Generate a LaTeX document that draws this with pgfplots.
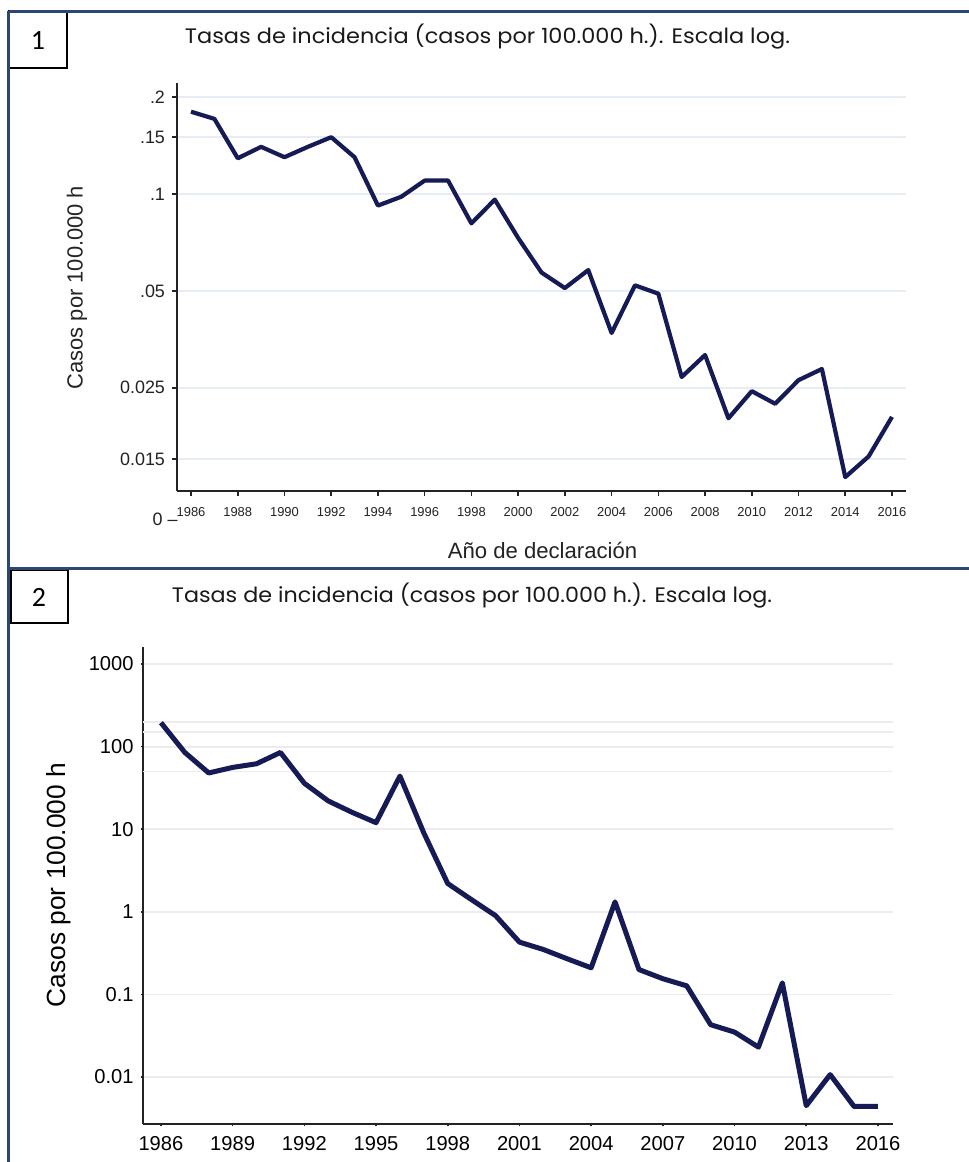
\documentclass[border=0pt]{standalone}
\usepackage{pgfplots}
\usepackage{pgfplotstable}
\pgfplotsset{compat=1.18}
\usepackage{fontspec}
\setmainfont{Liberation Sans}
\newfontfamily\titlefont{Poppins}
\newfontfamily\boxfont{Carlito}

\definecolor{serie}{RGB}{22,27,86}
\definecolor{marco}{RGB}{43,72,114}
\definecolor{rejillaA}{RGB}{230,237,244}
\definecolor{rejillaB}{RGB}{236,236,236}
\definecolor{eje}{RGB}{35,35,35}

% Tasas de incidencia, panel 1
\pgfplotstableread{
anio tasa
1986 0.180
1987 0.171
1988 0.129
1989 0.140
1990 0.130
1991 0.140
1992 0.150
1993 0.130
1994 0.092
1995 0.098
1996 0.110
1997 0.110
1998 0.081
1999 0.096
2000 0.073
2001 0.057
2002 0.051
2003 0.058
2004 0.037
2005 0.052
2006 0.049
2007 0.027
2008 0.0316
2009 0.0201
2010 0.0244
2011 0.0223
2012 0.0264
2013 0.0286
2014 0.0132
2015 0.0153
2016 0.0203
}\tablaA

% Tasas de incidencia, panel 2
\pgfplotstableread{
anio tasa
1986 195
1987 85
1988 48
1989 56
1990 62
1991 85
1992 36
1993 22
1994 16
1995 12
1996 44
1997 9
1998 2.2
1999 1.4
2000 0.9
2001 0.43
2002 0.35
2003 0.27
2004 0.21
2005 1.32
2006 0.2
2007 0.155
2008 0.127
2009 0.043
2010 0.035
2011 0.023
2012 0.138
2013 0.0045
2014 0.0107
2015 0.0044
2016 0.0044
}\tablaB

\newcommand\titulo[1]{\resizebox{#1}{\height}{\titlefont\fontsize{10.5}{12}\selectfont Tasas de incidencia (casos por 100.000 h.). Escala log.}}

\begin{document}
\begin{tikzpicture}
\useasboundingbox (0,0) rectangle (484.5bp,581bp);
\fill[white] (0,0) rectangle (484.5bp,581bp);

% ---------- panel 1 ----------
\begin{axis}[
  at={(88.5bp,335.5bp)}, anchor=south west,
  scale only axis, width=364.5bp, height=204bp,
  ymode=log, xmin=1985.4, xmax=2016.6, ymin=0.01195, ymax=0.221,
  axis lines=left, axis line style={-, eje, line width=1bp},
  xtick={1986,1988,1990,1992,1994,1996,1998,2000,2002,2004,2006,2008,2010,2012,2014,2016},
  xticklabels={1986,1988,1990,1992,1994,1996,1998,2000,2002,2004,2006,2008,2010,2012,2014,2016},
  ytick={0.015,0.025,0.05,0.1,0.15,0.2},
  yticklabels={0.015,0.025,.05,.1,.15,.2},
  yminorticks=false, xminorticks=false,
  tick align=outside, major tick length=2.5bp,
  tick style={eje, line width=0.8bp},
  ymajorgrids, grid style={rejillaA, line width=0.8bp},
  xticklabel style={font=\fontsize{6.5}{7}\selectfont, text=eje, yshift=-2bp},
  yticklabel style={font=\fontsize{9}{10}\selectfont, text=eje},
]
\addplot[serie, line width=2.1bp, line join=round] table[x=anio, y=tasa] {\tablaA};
\end{axis}

% ---------- panel 2 ----------
\begin{axis}[
  at={(71.5bp,19bp)}, anchor=south west,
  scale only axis, width=375bp, height=238.5bp,
  ymode=log, xmin=1985.25, xmax=2016.63, ymin=0.0027, ymax=1607,
  axis lines=left, axis line style={-, eje, line width=1bp},
  xtick={1986,1989,1992,1995,1998,2001,2004,2007,2010,2013,2016},
  xticklabels={1986,1989,1992,1995,1998,2001,2004,2007,2010,2013,2016},
  ytick={0.01,0.1,1,10,100,1000},
  yticklabels={0.01,0.1,1,10,100,1000},
  extra y ticks={50,150,200}, extra y tick labels={},
  extra y tick style={major tick length=0pt},
  yminorticks=false, xminorticks=false,
  tick align=outside, major tick length=1.2bp,
  tick style={eje, line width=0.8bp},
  ymajorgrids, grid style={rejillaB, line width=0.9bp},
  xticklabel style={font=\fontsize{10.1}{11}\selectfont, text=black, yshift=-1.5bp},
  yticklabel style={font=\fontsize{10.1}{11}\selectfont, text=black},
]
\addplot[serie, line width=2.5bp, line join=round] table[x=anio, y=tasa] {\tablaB};
\end{axis}

\begin{scope}[x=0.5bp,y=0.5bp]
% ---------- titles and labels ----------
\node[text=black!90] at (487.5,1125) {\titulo{302.5bp}};
\node[text=black!90] at (472,566) {\titulo{300bp}};
\node[rotate=90, text=eje] at (77,874.5) {\fontsize{11}{13}\selectfont Casos por 100.000 h};
\node[text=eje] at (542.5,612) {\fontsize{11.1}{13}\selectfont Año de declaración};
\node[rotate=90] at (59,277) {\fontsize{13.2}{15}\selectfont Casos por 100.000 h};
\node[anchor=east, inner sep=0pt, text=eje] at (178,643) {\fontsize{9}{10}\selectfont 0 –};

% ---------- frames ----------
\draw[black, line width=1.1bp] (9,1151) rectangle (67,1094);
\draw[black, line width=1.1bp] (11,592) rectangle (68,539);
\node at (38,1121) {\boxfont\fontsize{14}{16}\selectfont 1};
\node at (39,565) {\boxfont\fontsize{14}{16}\selectfont 2};
\draw[marco, line width=1.5bp] (9,1151) -- (969,1151);
\draw[marco, line width=1.5bp] (9,1151) -- (9,0);
\draw[marco, line width=1.5bp] (9,594) -- (969,594);
\end{scope}
\end{tikzpicture}
\end{document}
